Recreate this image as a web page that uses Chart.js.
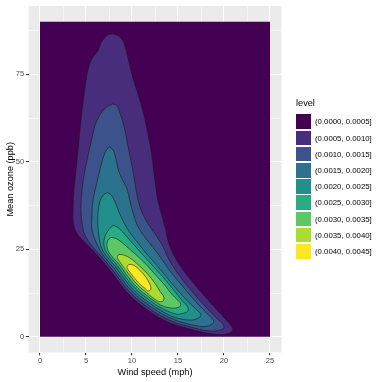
<!DOCTYPE html>
<html>
<head>
<meta charset="utf-8">
<script src="https://cdn.jsdelivr.net/npm/chart.js@4.4.0/dist/chart.umd.min.js"></script>
<style>
  html, body { margin: 0; padding: 0; background: #fff; }
  #wrap { position: relative; width: 382px; height: 382px; overflow: hidden; font-family: "Liberation Sans", Arial, sans-serif; }
  #chart { position: absolute; left: 0; top: 0; }
  #legend { position: absolute; left: 296px; top: 98px; color: #000; }
  #legend .ttl { position: absolute; left: 0; top: 0; font-size: 9.2px; line-height: 11px; white-space: nowrap; }
  #legend .row { position: absolute; left: 0; height: 15px; white-space: nowrap; }
  #legend .sw { position: absolute; left: 0; top: 0; width: 15px; height: 14.7px; }
  #legend .lab { position: absolute; left: 19px; top: 0; line-height: 15px; font-size: 7.8px; }
</style>
</head>
<body>
<div id="wrap">
  <canvas id="chart" width="382" height="382"></canvas>
  <div id="legend"></div>
</div>
<script>
const levelLabels = [
  '(0.0000, 0.0005]', '(0.0005, 0.0010]', '(0.0010, 0.0015]',
  '(0.0015, 0.0020]', '(0.0020, 0.0025]', '(0.0025, 0.0030]',
  '(0.0030, 0.0035]', '(0.0035, 0.0040]', '(0.0040, 0.0045]'
];
const levelColors = ['#440154', '#472D7B', '#3B528B', '#2C728E', '#21908C',
                     '#27AD81', '#5DC863', '#AADC32', '#FDE725'];
const xTicks = [0, 5, 10, 15, 20, 25];
const yTicks = [0, 25, 50, 75];
const xMinor = [2.5, 7.5, 12.5, 17.5, 22.5];
const yMinor = [12.5, 37.5, 62.5, 87.5];

// band outlines: wind speed (mph) / mean ozone (ppb)
const band1X = [0, 25, 25, 0];
const band1Y = [0, 0, 90, 90];

const band2X = [7.06, 7.60, 8.36, 8.90, 9.23, 9.45, 9.77, 10.10, 10.64, 11.18, 11.73, 12.16, 12.49, 12.81, 13.25, 13.68, 13.90, 14.55, 15.42, 16.50, 17.70, 18.78, 19.87, 20.63, 20.96, 20.63, 19.54, 18.13, 16.29, 14.44, 12.70, 10.86, 9.55, 8.58, 7.71, 6.62, 5.54, 4.56, 4.02, 3.69, 3.58, 3.69, 3.91, 4.23, 4.56, 4.78, 4.99, 5.32, 5.75, 6.30, 6.62];
const band2Y = [85.62, 86.48, 86.19, 85.05, 83.06, 80.78, 77.36, 73.95, 69.39, 64.55, 58.00, 51.74, 44.62, 38.92, 34.65, 30.38, 27.53, 23.26, 19.56, 15.86, 12.16, 9.03, 5.89, 3.62, 2.19, 1.05, 0.63, 1.05, 2.19, 3.62, 5.89, 9.31, 12.44, 15.58, 18.71, 22.12, 25.26, 27.82, 29.53, 31.52, 34.65, 41.77, 47.47, 56.01, 64.55, 68.82, 73.09, 77.36, 79.93, 81.64, 83.92];

const band3X = [7.93, 8.36, 8.69, 9.12, 9.45, 9.77, 10.10, 10.42, 10.75, 11.29, 11.94, 12.70, 13.36, 14.01, 14.88, 15.96, 17.16, 18.24, 19.22, 19.87, 19.98, 19.33, 18.22, 16.37, 14.53, 12.79, 10.94, 9.73, 8.75, 7.88, 6.80, 5.97, 5.21, 4.78, 4.56, 4.45, 4.56, 4.78, 5.10, 5.54, 5.97, 6.51, 7.27];
const band3Y = [66.54, 65.97, 63.98, 60.28, 56.01, 51.74, 47.47, 42.34, 38.07, 34.37, 31.52, 28.67, 25.83, 22.12, 18.42, 14.72, 11.02, 7.89, 5.32, 3.62, 2.48, 1.77, 1.68, 2.82, 4.24, 6.52, 9.94, 12.84, 15.97, 19.11, 22.52, 24.97, 27.53, 29.81, 32.66, 36.65, 41.77, 46.04, 50.31, 55.44, 60.28, 63.41, 65.69];

const band4X = [7.49, 7.93, 8.25, 8.47, 8.90, 9.45, 9.77, 10.10, 10.53, 11.18, 11.94, 12.70, 13.46, 14.33, 15.42, 16.50, 17.59, 18.46, 18.89, 18.68, 17.92, 16.46, 14.61, 12.88, 11.03, 9.90, 8.92, 8.06, 6.97, 6.41, 5.97, 5.65, 5.65, 5.75, 6.19, 6.62, 7.06];
const band4Y = [54.30, 53.44, 50.88, 48.03, 45.19, 42.34, 38.92, 35.51, 32.09, 29.24, 26.68, 24.12, 21.27, 18.14, 14.72, 11.30, 8.17, 5.89, 4.47, 3.62, 2.90, 3.45, 4.87, 7.15, 10.56, 13.24, 16.37, 19.50, 22.92, 25.26, 27.82, 30.67, 34.65, 38.92, 44.05, 48.89, 52.59];

const band5X = [7.27, 7.71, 8.03, 8.36, 8.79, 9.34, 9.99, 10.86, 11.73, 12.70, 13.68, 14.77, 15.85, 16.83, 17.48, 17.37, 16.50, 14.70, 12.96, 11.12, 10.08, 9.10, 8.23, 7.14, 6.62, 6.41, 6.30, 6.30, 6.51, 6.84];
const band5Y = [41.20, 40.63, 39.21, 37.22, 34.37, 31.52, 28.96, 26.11, 23.26, 20.42, 17.28, 13.87, 10.73, 8.17, 6.46, 5.61, 4.76, 5.50, 7.77, 11.19, 13.64, 16.77, 19.90, 23.32, 25.83, 28.67, 31.52, 35.51, 38.64, 40.35];

const band6X = [7.93, 8.47, 9.12, 9.88, 10.75, 11.62, 12.60, 13.57, 14.55, 15.42, 16.07, 16.07, 15.42, 14.77, 13.05, 11.21, 10.25, 9.27, 8.40, 7.32, 6.95, 7.06, 7.49];
const band6Y = [31.81, 31.24, 29.53, 27.25, 24.69, 22.12, 19.28, 16.43, 13.30, 10.45, 8.46, 7.32, 6.61, 6.46, 8.40, 11.82, 14.04, 17.17, 20.30, 23.72, 26.11, 28.67, 30.67];

const band7X = [7.71, 8.25, 8.90, 9.77, 10.75, 11.73, 12.70, 13.57, 14.33, 14.98, 15.31, 15.09, 14.33, 13.14, 11.29, 10.42, 9.45, 8.58, 7.49, 7.27, 7.38];
const band7Y = [28.39, 28.10, 26.96, 24.97, 22.69, 20.13, 17.28, 14.72, 12.16, 10.45, 9.31, 8.46, 8.17, 9.03, 12.44, 14.44, 17.57, 20.70, 24.12, 26.11, 27.53];

const band8X = [8.58, 9.23, 9.99, 10.86, 11.73, 12.49, 13.03, 13.46, 13.36, 12.81, 11.38, 10.60, 9.62, 8.75, 8.41];
const band8Y = [23.55, 23.26, 22.12, 20.13, 17.85, 15.29, 13.01, 11.30, 10.17, 10.17, 13.07, 14.83, 17.97, 21.10, 22.69];

const band9X = [9.66, 10.21, 10.86, 11.51, 11.94, 12.05, 11.73, 11.47, 10.77, 9.79, 9.45];
const band9Y = [20.70, 20.42, 18.99, 17.00, 15.01, 13.58, 13.01, 13.70, 15.23, 18.37, 19.85];

const bandsX = [band1X, band2X, band3X, band4X, band5X, band6X, band7X, band8X, band9X];
const bandsY = [band1Y, band2Y, band3Y, band4Y, band5Y, band6Y, band7Y, band8Y, band9Y];

const FONT = '"Liberation Sans", Arial, sans-serif';

// closed outline for each band, first point repeated
const datasets = bandsX.map((xs, i) => {
  const pts = xs.map((x, j) => ({ x: x, y: bandsY[i][j] }));
  pts.push(pts[0]);
  return {
    label: levelLabels[i],
    data: pts,
    backgroundColor: levelColors[i],
    borderColor: i === 0 ? 'rgba(0,0,0,0)' : '#1a1a1a',
    borderWidth: i === 0 ? 0 : 0.6,
    fill: 'shape',
    pointRadius: 0,
    tension: i === 0 ? 0 : 0.35,
    order: 9 - i
  };
});

// grey panel like ggplot
const panelBg = {
  id: 'panelBg',
  beforeDraw(chart) {
    const a = chart.chartArea, ctx = chart.ctx;
    ctx.save();
    ctx.fillStyle = '#EBEBEB';
    ctx.fillRect(a.left, a.top, a.right - a.left, a.bottom - a.top);
    ctx.restore();
  }
};

function gridOpts(major) {
  return {
    color: '#FFFFFF',
    lineWidth: c => major.includes(c.tick.value) ? 1.07 : 0.53,
    drawTicks: true,
    tickLength: 2.7,
    tickWidth: 1.07,
    tickColor: c => major.includes(c.tick.value) ? '#333333' : 'rgba(0,0,0,0)'
  };
}

new Chart(document.getElementById('chart'), {
  type: 'line',
  data: { datasets: datasets },
  plugins: [panelBg],
  options: {
    responsive: false,
    devicePixelRatio: 1,
    animation: false,
    events: [],
    layout: { padding: { left: 0, right: 100.5, top: 4, bottom: 0 } },
    plugins: {
      legend: { display: false },
      tooltip: { enabled: false },
      filler: { propagate: false }
    },
    scales: {
      x: {
        type: 'linear',
        min: -1.25,
        max: 26.25,
        afterBuildTicks: s => { s.ticks = xTicks.concat(xMinor).sort((a, b) => a - b).map(v => ({ value: v })); },
        afterFit: s => { s.height = 29.5; },
        grid: gridOpts(xTicks),
        border: { display: false },
        ticks: {
          autoSkip: false, maxRotation: 0, padding: 1.5,
          color: '#4D4D4D', font: { family: FONT, size: 7.6 },
          callback: v => xTicks.includes(v) ? String(v) : ''
        },
        title: {
          display: true, text: 'Wind speed (mph)', color: '#000000',
          font: { family: FONT, size: 9.2, lineHeight: 1.2 },
          padding: { top: 0, bottom: 4.5 }
        }
      },
      y: {
        type: 'linear',
        min: -4.5,
        max: 94.5,
        afterBuildTicks: s => { s.ticks = yTicks.concat(yMinor).sort((a, b) => a - b).map(v => ({ value: v })); },
        afterFit: s => { s.width = 28.5; },
        grid: gridOpts(yTicks),
        border: { display: false },
        ticks: {
          autoSkip: false, padding: 1.5,
          color: '#4D4D4D', font: { family: FONT, size: 7.6 },
          callback: v => yTicks.includes(v) ? String(v) : ''
        },
        title: {
          display: true, text: 'Mean ozone (ppb)', color: '#000000',
          font: { family: FONT, size: 9.2, lineHeight: 1.2 },
          padding: { top: 4.5, bottom: 0 }
        }
      }
    }
  }
});

// legend, ggplot style
const legend = document.getElementById('legend');
const ttl = document.createElement('div');
ttl.className = 'ttl';
ttl.textContent = 'level';
legend.appendChild(ttl);
levelLabels.forEach((lab, i) => {
  const row = document.createElement('div');
  row.className = 'row';
  row.style.top = (16.3 + i * 16.2) + 'px';
  const sw = document.createElement('div');
  sw.className = 'sw';
  sw.style.background = levelColors[i];
  const t = document.createElement('div');
  t.className = 'lab';
  t.textContent = lab;
  row.appendChild(sw);
  row.appendChild(t);
  legend.appendChild(row);
});
</script>
</body>
</html>
